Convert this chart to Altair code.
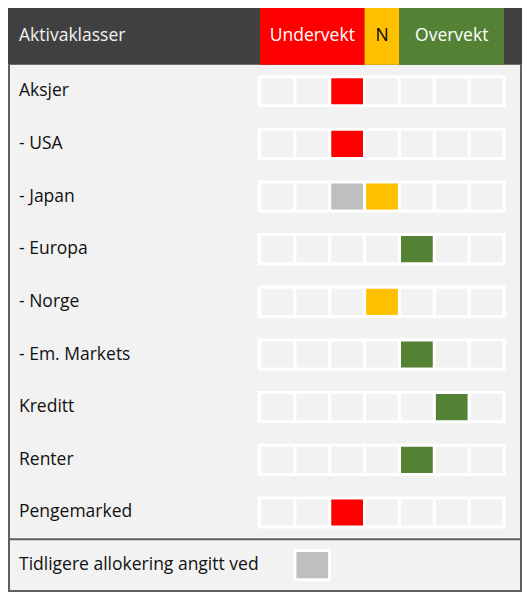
import altair as alt
import pandas as pd

# ---- data ----
categories = ["Aksjer", "- USA", "- Japan", "- Europa", "- Norge",
              "- Em. Markets", "Kreditt", "Renter", "Pengemarked"]
current = [3, 3, 4, 5, 4, 5, 6, 5, 3]
previous = [None, None, 3, None, None, None, None, None, None]
positions = [1, 2, 3, 4, 5, 6, 7]
header_labels = ["Undervekt", "N", "Overvekt"]
header_start = [1, 4, 5]
header_end = [3, 4, 7]
header_fill = ["#ff0000", "#ffc000", "#548235"]
header_text_color = ["#ffffff", "#000000", "#ffffff"]
title_text = "Aktivaklasser"
footer_text = "Tidligere allokering angitt ved"
footer_pos = 2

# ---- style ----
W, H = 514, 584
FONT = "Open Sans"
FS = 17.5
RED, YEL, GRN, GRAY = "#ff0000", "#ffc000", "#548235", "#bfbfbf"
DARK, BODY, BORDER = "#404040", "#f2f2f2", "#5f5f5f"


def pos_color(p):
    if p <= 3:
        return RED
    if p == 4:
        return YEL
    return GRN


rows = pd.DataFrame({"cat": categories, "idx": list(range(len(categories))),
                     "cur": current, "prev": previous})
rows["color"] = [pos_color(p) for p in current]
cells = pd.DataFrame([{"idx": i, "pos": p} for i in range(len(categories)) for p in positions])
hdr = pd.DataFrame({"label": header_labels, "start": header_start, "end": header_end,
                    "fill": header_fill, "tcolor": header_text_color})
footer = pd.DataFrame({"label": [footer_text], "idx": [len(categories)], "pos": [footer_pos]})
title = pd.DataFrame({"label": [title_text]})
one = pd.DataFrame({"a": [0]})

xs = alt.Scale(domain=[0.5, 7.5], range=[252, 496])
ys = alt.Scale(domain=[-1.58, 9.51], range=[0, H])

CW, CH = 0.455, 0.248   # cell half sizes
FW, FH = 0.305, 0.305


def xq(f):
    return alt.X(f, type="quantitative", scale=xs, axis=None)


def yq(f):
    return alt.Y(f, type="quantitative", scale=ys, axis=None)


header_bg = alt.Chart(one).mark_rect(color=DARK).encode(
    x=alt.value(0), x2=alt.value(W),
    y=alt.Y(datum=-1.58, scale=ys, axis=None), y2=alt.datum(-0.5))

header_seg = alt.Chart(hdr).transform_calculate(
    x1="datum.start - 0.5", x2="datum.end + 0.5", y1="-1.58", y2="-0.5"
).mark_rect().encode(
    x=xq("x1"), x2="x2:Q", y=yq("y1"), y2="y2:Q",
    color=alt.Color("fill:N", scale=None))

header_txt = alt.Chart(hdr).transform_calculate(
    mid="(datum.start + datum.end) / 2", yy="-1.04"
).mark_text(font=FONT, fontSize=FS, baseline="middle", align="center").encode(
    x=xq("mid"), y=yq("yy"), text="label:N",
    color=alt.Color("tcolor:N", scale=None))

title_txt = alt.Chart(title).transform_calculate(yy="-1.04").mark_text(
    font=FONT, fontSize=FS, baseline="middle", align="left", color="#f2f2f2"
).encode(x=alt.value(11), y=yq("yy"), text="label:N")

frames = alt.Chart(rows).transform_calculate(
    x1="0.43", x2="7.55", y1=f"datum.idx - {FH}", y2=f"datum.idx + {FH}"
).mark_rect(color="white").encode(x=xq("x1"), x2="x2:Q", y=yq("y1"), y2="y2:Q")

empty = alt.Chart(cells).transform_calculate(
    x1=f"datum.pos - {CW}", x2=f"datum.pos + {CW}",
    y1=f"datum.idx - {CH}", y2=f"datum.idx + {CH}"
).mark_rect(color=BODY).encode(x=xq("x1"), x2="x2:Q", y=yq("y1"), y2="y2:Q")

cur = alt.Chart(rows).transform_calculate(
    x1=f"datum.cur - {CW}", x2=f"datum.cur + {CW}",
    y1=f"datum.idx - {CH}", y2=f"datum.idx + {CH}"
).mark_rect().encode(x=xq("x1"), x2="x2:Q", y=yq("y1"), y2="y2:Q",
                     color=alt.Color("color:N", scale=None))

prev = alt.Chart(rows).transform_filter("isValid(datum.prev)").transform_calculate(
    x1=f"datum.prev - {CW}", x2=f"datum.prev + {CW}",
    y1=f"datum.idx - {CH}", y2=f"datum.idx + {CH}"
).mark_rect(color=GRAY).encode(x=xq("x1"), x2="x2:Q", y=yq("y1"), y2="y2:Q")

labels = alt.Chart(rows).mark_text(
    font=FONT, fontSize=FS, baseline="middle", align="left", color="#111111"
).encode(x=alt.value(11), y=yq("idx"), text="cat:N")

foot_frame = alt.Chart(footer).transform_calculate(
    x1="datum.pos - 0.53", x2="datum.pos + 0.53",
    y1=f"datum.idx - {FH}", y2=f"datum.idx + {FH}"
).mark_rect(color="white").encode(x=xq("x1"), x2="x2:Q", y=yq("y1"), y2="y2:Q")

foot_sq = alt.Chart(footer).transform_calculate(
    x1=f"datum.pos - {CW}", x2=f"datum.pos + {CW}",
    y1=f"datum.idx - {CH}", y2=f"datum.idx + {CH}"
).mark_rect(color=GRAY).encode(x=xq("x1"), x2="x2:Q", y=yq("y1"), y2="y2:Q")

foot_txt = alt.Chart(footer).mark_text(
    font=FONT, fontSize=FS, baseline="middle", align="left", color="#111111"
).encode(x=alt.value(11), y=yq("idx"), text="label:N")

border_l = alt.Chart(one).mark_rule(color=BORDER, strokeWidth=2).encode(
    x=alt.value(1), y=alt.Y(datum=-0.5, scale=ys, axis=None), y2=alt.value(H))
border_r = alt.Chart(one).mark_rule(color=BORDER, strokeWidth=2).encode(
    x=alt.value(W - 1), y=alt.Y(datum=-0.5, scale=ys, axis=None), y2=alt.value(H))
border_b = alt.Chart(one).mark_rule(color=BORDER, strokeWidth=2).encode(
    x=alt.value(0), x2=alt.value(W), y=alt.value(H - 1))
sep = alt.Chart(one).mark_rule(color=BORDER, strokeWidth=2).encode(
    x=alt.value(0), x2=alt.value(W), y=alt.Y(datum=8.51, scale=ys, axis=None))

chart = alt.layer(
    header_bg, header_seg, header_txt, title_txt,
    frames, empty, cur, prev, labels,
    foot_frame, foot_sq, foot_txt,
    border_l, border_r, border_b, sep
).properties(
    width=W, height=H, padding=0, background=BODY,
    autosize=alt.AutoSizeParams(type="none")
).configure_view(strokeWidth=0)

chart.save("out.html", embed_options={"renderer": "svg", "actions": False})
